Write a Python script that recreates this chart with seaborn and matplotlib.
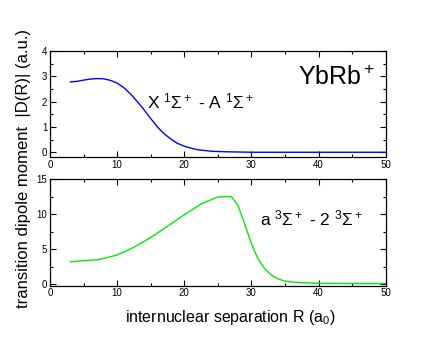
import numpy as np
import pandas as pd
import matplotlib.pyplot as plt
import seaborn as sns
from matplotlib.ticker import MultipleLocator
plt.switch_backend('Agg')

# X 1Sigma+ - A 1Sigma+ transition dipole
r_xa = [3, 4, 5, 6, 7, 8, 9, 10, 11, 12, 13, 14, 15, 16, 17, 18, 19, 20,
        21, 22, 23, 24, 26, 28, 30, 35, 40, 45, 50]
d_xa = [2.78, 2.8, 2.85, 2.89, 2.91, 2.9, 2.84, 2.73, 2.55, 2.3, 2.0, 1.68,
        1.33, 1.0, 0.73, 0.52, 0.35, 0.24, 0.16, 0.1, 0.07, 0.04, 0.02, 0.01,
        0.0, 0.0, 0.0, 0.0, 0.0]

# a 3Sigma+ - 2 3Sigma+ transition dipole
r_a2 = [3, 5, 7, 8, 10, 12.5, 15, 17.5, 20, 22.5, 25, 26, 27, 28, 29, 30,
        31, 32, 33, 34, 35, 37, 40, 45, 50]
d_a2 = [3.2, 3.4, 3.5, 3.7, 4.2, 5.3, 6.7, 8.3, 9.95, 11.5, 12.5, 12.55,
        12.55, 11.3, 8.6, 5.8, 3.6, 2.2, 1.3, 0.75, 0.45, 0.25, 0.15, 0.1, 0.1]

df_xa = pd.DataFrame({'R': r_xa, 'D': d_xa})
df_a2 = pd.DataFrame({'R': r_a2, 'D': d_a2})

sns.set_style("ticks")
plt.rcParams['font.family'] = ['Liberation Sans', 'DejaVu Sans']
plt.rcParams['mathtext.fontset'] = 'custom'
plt.rcParams['mathtext.rm'] = 'Liberation Sans'
plt.rcParams['mathtext.it'] = 'Liberation Sans:italic'
plt.rcParams['mathtext.bf'] = 'Liberation Sans:bold'
for key in ['text.color', 'axes.labelcolor', 'xtick.color', 'ytick.color',
            'axes.edgecolor']:
    plt.rcParams[key] = 'black'

fig = plt.figure(figsize=(4.36, 3.37), dpi=100)
ax1 = fig.add_axes([0.1147, 0.5332, 0.77, 0.3155])
ax2 = fig.add_axes([0.1147, 0.1522, 0.77, 0.3152])

sns.lineplot(data=df_xa, x='R', y='D', ax=ax1, color='#0000ff', lw=1.0)
sns.lineplot(data=df_a2, x='R', y='D', ax=ax2, color='#00ee00', lw=1.0)

for ax in (ax1, ax2):
    ax.set_xlim(0, 50)
    ax.xaxis.set_major_locator(MultipleLocator(10))
    ax.xaxis.set_minor_locator(MultipleLocator(5))
    ax.tick_params(which='both', direction='in', top=True, right=True,
                   labelsize=7, pad=2, width=0.8)
    ax.tick_params(which='major', length=4)
    ax.tick_params(which='minor', length=2)
    for s in ax.spines.values():
        s.set_linewidth(0.9)
    ax.set_xlabel('')
    ax.set_ylabel('')

ax1.set_ylim(-0.2, 4)
ax1.yaxis.set_major_locator(MultipleLocator(1))
ax1.yaxis.set_minor_locator(MultipleLocator(0.5))
ax2.set_ylim(-0.2, 15)
ax2.yaxis.set_major_locator(MultipleLocator(5))
ax2.yaxis.set_minor_locator(MultipleLocator(2.5))

ax1.text(0.74, 0.68, r'YbRb$^+$', transform=ax1.transAxes, fontsize=18)
ax1.text(0.29, 0.46, r'X $^1\Sigma^+$ - A $^1\Sigma^+$', transform=ax1.transAxes,
         fontsize=12.5)
ax2.text(0.625, 0.57, r'a $^3\Sigma^+$ - 2 $^3\Sigma^+$', transform=ax2.transAxes,
         fontsize=12.5)

fig.text(0.528, 0.045, r'internuclear separation R (a$_0$)', ha='center',
         fontsize=11.5)
fig.text(0.055, 0.5, 'transition dipole moment  |D(R)| (a.u.)', rotation=90,
         va='center', ha='center', fontsize=12)

fig.savefig('out.png', dpi=100)
